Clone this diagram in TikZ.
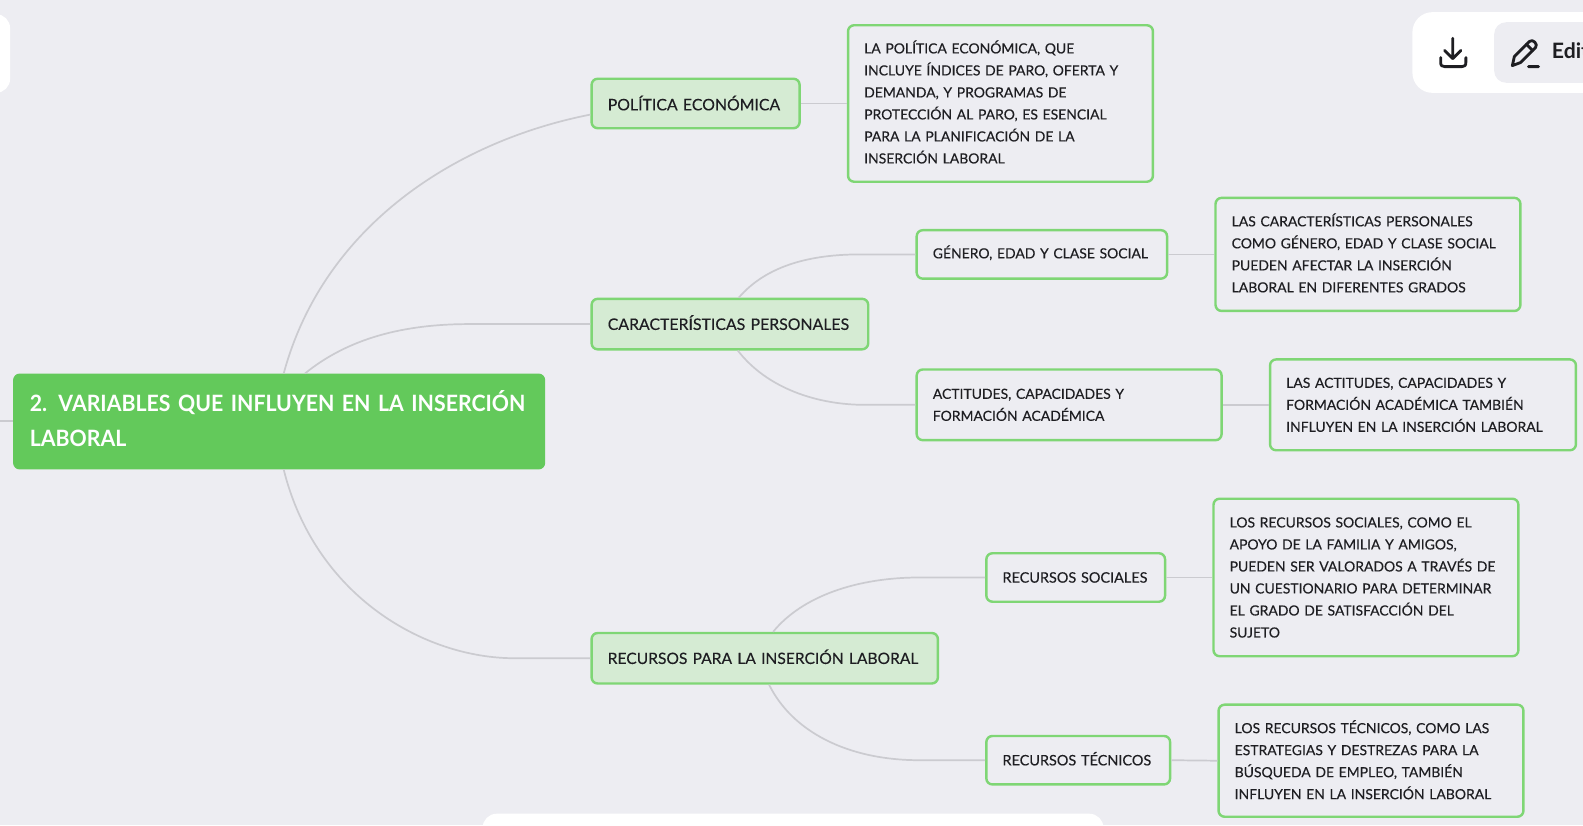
\documentclass[tikz,border=0pt]{standalone}
\usepackage{fontspec}
\setmainfont{Lato}
\newfontfamily\medfont[FakeBold=0.25]{Lato}
\newfontfamily\headfont[FakeStretch=0.945]{Lato}
\newcommand{\lift}[1]{\rule[-#1]{0pt}{#1}}
\usetikzlibrary{calc}
\definecolor{pagebg}{HTML}{EDEDF2}
\definecolor{mainfill}{HTML}{63C95B}
\definecolor{lightfill}{HTML}{D5EBD3}
\definecolor{edgegreen}{HTML}{7FD675}
\definecolor{linkgray}{HTML}{CBCBD0}
\definecolor{inkdark}{HTML}{1E1E22}
\definecolor{pillgray}{HTML}{EDEDF2}
\tikzset{
  x=1pt,y=-1pt,
  box/.style={anchor=north west,xshift=-1.2pt,yshift=1.2pt,rounded corners=6pt,draw=edgegreen,line width=2.4pt,inner xsep=16pt,inner ysep=0pt,
    align=left,text=inkdark,font=\medfont\fontsize{13.8}{21.8}\selectfont},
  sub/.style={box,fill=lightfill,font=\medfont\fontsize{15.7}{21.7}\selectfont},
  subnarrow/.style={sub,font=\medfont\fontsize{15.45}{21.7}\selectfont},
  mid/.style={box,fill=pagebg},
  midwide/.style={mid,font=\medfont\fontsize{14.3}{21.7}\selectfont},
  detail/.style={box,fill=pagebg},
  link/.style={draw=linkgray,line width=1.7pt},
  ui/.style={draw=inkdark,line width=2.8pt,line cap=round,line join=round},
}
\begin{document}
\begin{tikzpicture}
\useasboundingbox (0,0) rectangle (1568,817.2);
\fill[pagebg] (0,0) rectangle (1568,817.2);
% interface panels
\fill[white,rounded corners=14pt] (-30,14) rectangle (10,92);
\fill[white,rounded corners=20pt] (1399,12) rectangle (1610,92);
\fill[pillgray,rounded corners=12pt] (1480,22) rectangle (1610,82);
\fill[white,rounded corners=14pt] (478,806) rectangle (1093,850);
\draw[ui] (1439,38) -- (1439,58) (1431,50) -- (1439,58) -- (1447,50);
\draw[ui] (1427,57) -- (1427,61) .. controls (1427,65) and (1428,66) .. (1431,66) -- (1448,66) .. controls (1451,66) and (1452,65) .. (1452,61) -- (1452,57);
\draw[ui] (1498,65) -- (1500,56) -- (1515,41) .. controls (1518,38) and (1524,44) .. (1521,47) -- (1506,62) -- cycle;
\draw[ui] (1512,44) -- (1518,50) (1514,66) -- (1524,66);
\node[anchor=west,inner sep=0pt,text=inkdark,font=\fontsize{21}{24}\selectfont\bfseries] (edit) at (1537,50) {Edit};
% nodes
\node[anchor=north west,rounded corners=6pt,fill=mainfill,draw=mainfill,line width=1pt,inner xsep=16pt,inner ysep=0pt,
  minimum height=94pt,text width=494pt,align=left,text=white,font=\headfont\fontsize{22.3}{34.5}\selectfont\bfseries] (main) at (13,370)
  {\mbox{2. VARIABLES QUE INFLUYEN EN LA INSERCIÓN}\\LABORAL\lift{6pt}};
\node[sub,minimum height=49pt,text width=174pt] (pol) at (586,78) {\mbox{POLÍTICA ECONÓMICA}\lift{1pt}};
\node[sub,minimum height=50pt,text width=242pt] (car) at (586,296) {\mbox{CARACTERÍSTICAS PERSONALES}\lift{3pt}};
\node[subnarrow,minimum height=50pt,text width=311pt] (rec) at (586,627) {\mbox{RECURSOS PARA LA INSERCIÓN LABORAL}\lift{3pt}};
\node[detail,minimum height=155pt,text width=270pt] (d1) at (840,25) {LA POLÍTICA ECONÓMICA, QUE\\INCLUYE ÍNDICES DE PARO, OFERTA Y\\DEMANDA, Y PROGRAMAS DE\\PROTECCIÓN AL PARO, ES ESENCIAL\\PARA LA PLANIFICACIÓN DE LA\\INSERCIÓN LABORAL\lift{3pt}};
\node[mid,minimum height=48pt,text width=216pt] (gen) at (908,228) {\mbox{GÉNERO, EDAD Y CLASE SOCIAL}\lift{5pt}};
\node[detail,minimum height=112pt,text width=270pt] (d2) at (1204,196) {LAS CARACTERÍSTICAS PERSONALES\\COMO GÉNERO, EDAD Y CLASE SOCIAL\\PUEDEN AFECTAR LA INSERCIÓN\\LABORAL EN DIFERENTES GRADOS\lift{3pt}};
\node[mid,minimum height=70pt,text width=270pt] (act) at (908,366) {ACTITUDES, CAPACIDADES Y\\FORMACIÓN ACADÉMICA};
\node[detail,minimum height=90pt,text width=271pt] (d3) at (1258,356) {LAS ACTITUDES, CAPACIDADES Y\\FORMACIÓN ACADÉMICA TAMBIÉN\\INFLUYEN EN LA INSERCIÓN LABORAL};
\node[midwide,minimum height=48pt,text width=145pt] (soc) at (977,548) {\mbox{RECURSOS SOCIALES}};
\node[detail,minimum height=156pt,text width=270pt] (d4) at (1202,494) {LOS RECURSOS SOCIALES, COMO EL\\APOYO DE LA FAMILIA Y AMIGOS,\\PUEDEN SER VALORADOS A TRAVÉS DE\\UN CUESTIONARIO PARA DETERMINAR\\EL GRADO DE SATISFACCIÓN DEL\\SUJETO};
\node[midwide,minimum height=48pt,text width=150pt] (tec) at (977,729) {\mbox{RECURSOS TÉCNICOS}\lift{3pt}};
\node[detail,minimum height=111pt,text width=270pt] (d5) at (1207,698) {LOS RECURSOS TÉCNICOS, COMO LAS\\ESTRATEGIAS Y DESTREZAS PARA LA\\BÚSQUEDA DE EMPLEO, TAMBIÉN\\INFLUYEN EN LA INSERCIÓN LABORAL\lift{2pt}};
% connector ends
\coordinate (free) at (0,417);
\coordinate (mt1) at ($(main.north west)+(268,0)$);
\coordinate (mt2) at ($(main.north west)+(289,0)$);
\coordinate (mb1) at ($(main.south west)+(268,0)$);
\coordinate (c1) at ($(car.north west)+(147,0)$);
\coordinate (c2) at ($(car.south west)+(146,0)$);
\coordinate (r1) at ($(rec.north west)+(181,0)$);
\coordinate (r2) at ($(rec.south west)+(177,0)$);
\coordinate (pin) at ($(pol.west)+(0,11)$);
\coordinate (carb) at ($(car.west)+(-120,0)$);
\coordinate (recb) at ($(rec.west)+(-75,0)$);
\coordinate (genb) at ($(gen.west)+(-55,0)$);
\coordinate (actb) at ($(act.west)+(-50,0)$);
\coordinate (socb) at ($(soc.west)+(-65,0)$);
\coordinate (tecb) at ($(tec.west)+(-65,0)$);
\draw[link] (free) -- (main.west |- free);
\draw[link] (mt1) .. controls (320,225) and (450,140) .. (pin);
\draw[link] (mt2) .. controls (345,335) and (400,321) .. (carb) -- (car.west);
\draw[link] (mb1) .. controls (312,590) and (420,652) .. (recb) -- (rec.west);
\draw[link] (pol.east) -- (d1.west);
\draw[link] (c1) .. controls (760,262) and (805,252) .. (genb) -- (gen.west);
\draw[link] (c2) .. controls (760,385) and (810,401) .. (actb) -- (act.west);
\draw[link] (gen.east) -- (d2.west);
\draw[link] (act.east) -- (d3.west);
\draw[link] (r1) .. controls (795,590) and (850,572) .. (socb) -- (soc.west);
\draw[link] (r2) .. controls (785,725) and (840,753) .. (tecb) -- (tec.west);
\draw[link] (soc.east) -- (d4.west);
\draw[link] (tec.east) -- (d5.west);
\end{tikzpicture}
\end{document}
